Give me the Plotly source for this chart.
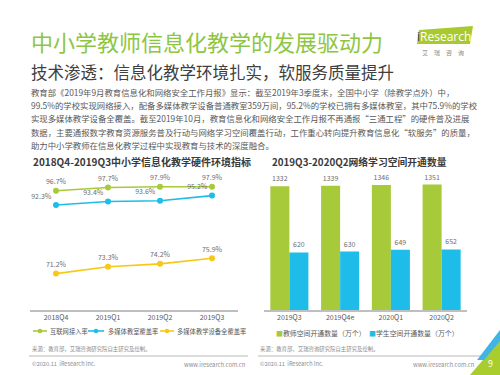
import plotly.graph_objects as go

W, H = 500, 375
FONT = "Noto Sans CJK SC"

# ---------------- data ----------------
quarters_hw = ["2018Q4", "2019Q1", "2019Q2", "2019Q3"]
internet_rate = [96.7, 97.7, 97.9, 97.9]
mm_classroom_rate = [92.3, 93.4, 93.6, 95.2]
mm_device_rate = [71.2, 73.3, 74.2, 75.9]
hw_series_names = ["互联网接入率", "多媒体教室覆盖率", "多媒体教学设备全覆盖率"]

quarters_space = ["2019Q3", "2019Q4e", "2020Q1", "2020Q2"]
teacher_space = [1332, 1339, 1346, 1351]
student_space = [620, 630, 649, 652]
space_series_names = ["教师空间开通数量（万个）", "学生空间开通数量（万个）"]

title = "中小学教师信息化教学的发展驱动力"
subtitle = "技术渗透：信息化教学环境扎实，软服务质量提升"
body_lines = [
    "教育部《2019年9月教育信息化和网络安全工作月报》显示：截至2019年3季度末，全国中小学（除教学点外）中，",
    "99.5%的学校实现网络接入，配备多媒体教学设备普通教室359万间，95.2%的学校已拥有多媒体教室，其中75.9%的学校",
    "实现多媒体教学设备全覆盖。截至2019年10月，教育信息化和网络安全工作月报不再通报“三通工程”的硬件普及进展",
    "数据，主要通报数字教育资源服务普及行动与网络学习空间覆盖行动，工作重心转向提升教育信息化“软服务”的质量，",
    "助力中小学教师在信息化教学过程中实现教育与技术的深度融合。",
]
left_title = "2018Q4-2019Q3中小学信息化教学硬件环境指标"
right_title = "2019Q3-2020Q2网络学习空间开通数量"
source_text = "来源：教育部，艾瑞咨询研究院自主研究及绘制。"
copyright_text = "©2020.11  iResearch Inc."
site_text = "www.iresearch.com.cn"
page_no = "9"

GREEN = "#a7ca3a"
BLUE = "#1ebde9"
YELLOW = "#f7c816"
TITLE_GREEN = "#8dc641"
GRAY = "#595959"
LIGHT = "#8c8c8c"


def X(p):
    return p / W


def Y(p):
    return 1 - p / H


fig = go.Figure()

# ---------------- left chart: lines ----------------
for vals, name, col, pos in [
    (internet_rate, hw_series_names[0], GREEN, "top center"),
    (mm_classroom_rate, hw_series_names[1], BLUE, "top left"),
    (mm_device_rate, hw_series_names[2], YELLOW, "top center"),
]:
    fig.add_trace(go.Scatter(
        x=quarters_hw, y=vals, name=name, mode="lines+markers+text",
        line=dict(color=col, width=1.6), marker=dict(color=col, size=6),
        text=[f"{v}%" for v in vals], textposition=pos,
        textfont=dict(size=7, color="#6e6e6e", family=FONT),
        xaxis="x", yaxis="y", showlegend=False, cliponaxis=False,
    ))

# ---------------- right chart: bars ----------------
for vals, name, col in [
    (teacher_space, space_series_names[0], GREEN),
    (student_space, space_series_names[1], BLUE),
]:
    fig.add_trace(go.Bar(
        x=quarters_space, y=vals, name=name, marker=dict(color=col, line=dict(width=0)),
        text=[str(v) for v in vals], textposition="outside",
        textfont=dict(size=7, color="#6e6e6e", family=FONT),
        xaxis="x2", yaxis="y2", showlegend=False, cliponaxis=False,
    ))

axis_common = dict(
    type="category", showline=True, linecolor="#bfbfbf", linewidth=1.5,
    ticks="", showgrid=False, zeroline=False, range=[-0.5, 3.5], fixedrange=True,
    tickfont=dict(size=7, color=GRAY, family=FONT),
)
ydom = [Y(310), Y(180)]

annotations = []
shapes = []


def text(x, y, s, size, color=GRAY, anchor="left", bold=False):
    annotations.append(dict(
        x=X(x), y=Y(y), xref="paper", yref="paper", text=(f"<b>{s}</b>" if bold else s),
        showarrow=False, xanchor=anchor, yanchor="middle",
        font=dict(size=size, color=color, family=FONT),
    ))


# titles
text(29, 41, title, 22, TITLE_GREEN)
text(29, 72, subtitle, 16.5, "#404040")
for i, line in enumerate(body_lines):
    text(29, 91.5 + 13.4 * i, line, 8.4, GRAY)

text(31, 162, left_title, 10, "#3a3a3a", bold=True)
text(270, 162, right_title, 9.8, "#3a3a3a", bold=True)

# left legend (manual, compact symbols)
leg_items = [(33, 47, 48), (88, 104, 106), (160, 174, 175)]
for (lx0, lx1, tx), name, col in zip(leg_items, hw_series_names, [GREEN, BLUE, YELLOW]):
    ly = 331
    shapes.append(dict(type="line", xref="paper", yref="paper", x0=X(lx0), x1=X(lx1),
                       y0=Y(ly), y1=Y(ly), line=dict(color=col, width=1.6)))
    cx = (lx0 + lx1) / 2
    shapes.append(dict(type="circle", xref="paper", yref="paper", x0=X(cx - 2.3), x1=X(cx + 2.3),
                       y0=Y(ly + 2.3), y1=Y(ly - 2.3), fillcolor=col, line=dict(width=0)))
    text(tx, ly, name, 6.3, GRAY)

# right legend
for tx, name, col in zip([274, 367], space_series_names, [GREEN, BLUE]):
    text(tx, 333, f"<span style='color:{col}'>■</span>{name}", 6.9, GRAY)

# source / footer
for x0, x1, sx in [(29, 248, 30), (258, 483, 258)]:
    text(sx, 349, source_text, 5.4, LIGHT)
    shapes.append(dict(type="line", xref="paper", yref="paper", x0=X(x0), x1=X(x1),
                       y0=Y(356), y1=Y(356), line=dict(color="#d0d0d0", width=1.5)))
text(30, 364, copyright_text, 5.6, LIGHT)
text(248, 364, site_text, 5.8, LIGHT, anchor="right")
text(258, 364, copyright_text, 5.6, LIGHT)
text(477, 364, site_text, 5.8, LIGHT, anchor="right")

# logo
shapes.append(dict(type="path", xref="paper", yref="paper",
                   path=f"M{X(419)},{Y(30)} L{X(473)},{Y(26)} L{X(470)},{Y(44)} L{X(417)},{Y(44)} Z",
                   fillcolor="#a9ca2e", line=dict(width=0)))
annotations.append(dict(x=X(444), y=Y(36.5), xref="paper", yref="paper",
                        text="<span style='color:#3a3a3a'>i</span>Research", showarrow=False,
                        xanchor="center", yanchor="middle",
                        font=dict(size=12, color="white", family="Open Sans")))
text(443, 53, "艾　瑞　咨　询", 6, "#8a8a8a", anchor="center")

# page corner
shapes.append(dict(type="path", xref="paper", yref="paper",
                   path=f"M{X(470)},{Y(375)} L{X(500)},{Y(340)} L{X(500)},{Y(375)} Z",
                   fillcolor="#a9cd2c", line=dict(width=0)))
shapes.append(dict(type="path", xref="paper", yref="paper",
                   path=f"M{X(477)},{Y(360)} L{X(500)},{Y(330)} L{X(500)},{Y(341)} L{X(484)},{Y(360)} Z",
                   fillcolor="#3fb5e6", line=dict(width=0)))
annotations.append(dict(x=X(490), y=Y(363), xref="paper", yref="paper", text=page_no,
                        showarrow=False, xanchor="center", yanchor="middle",
                        font=dict(size=9, color="white", family=FONT)))

fig.update_layout(
    width=W, height=H, margin=dict(l=0, r=0, t=0, b=0, autoexpand=False),
    paper_bgcolor="white", plot_bgcolor="white",
    font=dict(family=FONT),
    xaxis=dict(domain=[X(30), X(238)], anchor="y", **axis_common),
    yaxis=dict(domain=ydom, range=[60, 100], visible=False, fixedrange=True),
    xaxis2=dict(domain=[X(264), X(467)], anchor="y2", **axis_common),
    yaxis2=dict(domain=ydom, range=[0, 1400], visible=False, fixedrange=True),
    barmode="group", bargap=0.25, bargroupgap=0,
    annotations=annotations, shapes=shapes, showlegend=False,
)

fig.write_html(
    "out.html",
    config={"displayModeBar": False},
    post_script="document.body.style.margin='0';document.body.style.overflow='hidden';",
)
